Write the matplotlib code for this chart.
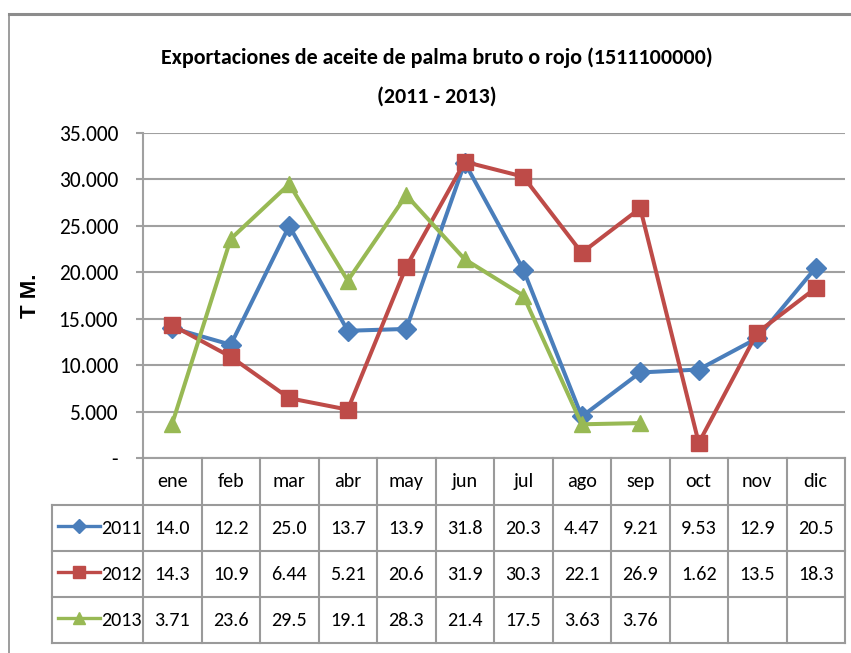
import numpy as np
import matplotlib
matplotlib.use("Agg")
import matplotlib.pyplot as plt
from matplotlib.lines import Line2D
from matplotlib import font_manager as fm

# pick a Calibri-like family if one is installed
have = {f.name for f in fm.fontManager.ttflist}
main_font = 'DejaVu Sans'
for cand in ['Carlito', 'Roboto Condensed', 'Open Sans Condensed', 'Liberation Sans Narrow']:
    if cand in have:
        main_font = cand
        break
plt.rcParams['font.family'] = [main_font, 'DejaVu Sans']

# Data (thousands of TM, as printed in the data table)
months = ['ene', 'feb', 'mar', 'abr', 'may', 'jun', 'jul', 'ago', 'sep', 'oct', 'nov', 'dic']
years = ['2011', '2012', '2013']
v2011 = [14.0, 12.2, 25.0, 13.7, 13.9, 31.8, 20.3, 4.47, 9.21, 9.53, 12.9, 20.5]
v2012 = [14.3, 10.9, 6.44, 5.21, 20.6, 31.9, 30.3, 22.1, 26.9, 1.62, 13.5, 18.3]
v2013 = [3.71, 23.6, 29.5, 19.1, 28.3, 21.4, 17.5, 3.63, 3.76]
yticks = [0, 5000, 10000, 15000, 20000, 25000, 30000, 35000]
ytick_labels = ['-', '5.000', '10.000', '15.000', '20.000', '25.000', '30.000', '35.000']

series = [v2011, v2012, v2013]
colors = ['#4A7EBB', '#BE4B48', '#98B954']
markers = ['D', 's', '^']
msizes = [10, 12, 12]
grid_c = '#A0A0A0'

W, H = 851, 653
fig = plt.figure(figsize=(W / 100, H / 100), dpi=100)

# outer chart frame
fig.add_artist(Line2D([9 / W, 1], [1 - 14 / H, 1 - 14 / H], color='#8C8C8C', lw=2.2))
fig.add_artist(Line2D([9 / W, 9 / W], [0, 1 - 14 / H], color='#8C8C8C', lw=1.2))

left, right = 143 / W, 845 / W
top, bot = 1 - 133 / H, 1 - 458 / H
ax = fig.add_axes([left, bot, right - left, top - bot])

x = np.arange(len(months))
for vals, c, m, ms in zip(series, colors, markers, msizes):
    ax.plot(x[:len(vals)], np.array(vals) * 1000, color=c, lw=2.9, marker=m,
            markersize=ms, markeredgecolor=c, zorder=3)

ax.set_xlim(-0.5, len(months) - 0.5)
ax.set_ylim(0, 35000)
ax.set_yticks(yticks)
ax.set_yticklabels(ytick_labels, fontsize=15.5)
ax.set_xticks([])
ax.yaxis.grid(True, color=grid_c, lw=1.5)
ax.set_axisbelow(True)
for s in ['top', 'right']:
    ax.spines[s].set_visible(False)
ax.spines['left'].set_color(grid_c)
ax.spines['bottom'].set_color(grid_c)
ax.spines['left'].set_linewidth(1.5)
ax.spines['bottom'].set_linewidth(1.5)
ax.tick_params(axis='y', length=5, color=grid_c, width=1.5, pad=13)
fig.text(30 / W, 1 - 296 / H, 'T M.', rotation=90, ha='center', va='center',
         fontsize=16, fontweight='bold', family='Liberation Sans')

fig.text(437 / W, 1 - 58 / H,
         'Exportaciones de aceite de palma bruto o rojo (1511100000)',
         ha='center', va='center', fontsize=15.8, fontweight='bold')
fig.text(437 / W, 1 - 97 / H, '(2011 - 2013)',
         ha='center', va='center', fontsize=15.8, fontweight='bold')

# data table below the plot
tb_top, tb_bot = 458, 643
tax = fig.add_axes([left, 1 - tb_bot / H, right - left, (tb_bot - tb_top) / H])
tax.set_xlim(-0.5, len(months) - 0.5)
row_h = [47, 46, 46, 46]
ys = [tb_bot - tb_top]
for h in row_h:
    ys.append(ys[-1] - h)
tax.set_ylim(0, tb_bot - tb_top)
tax.axis('off')
leg_x = -0.5 - (143 - 52) / 58.5
lc = '#9A9A9A'
for yy in ys[1:]:
    tax.plot([leg_x, len(months) - 0.5], [yy, yy], color=lc, lw=1.5, clip_on=False)
for k in range(len(months) + 1):
    tax.plot([k - 0.5, k - 0.5], [ys[0], 0], color=lc, lw=1.5, clip_on=False)
tax.plot([leg_x, leg_x], [ys[1], 0], color=lc, lw=1.5, clip_on=False)

for k, mth in enumerate(months):
    tax.text(k, (ys[0] + ys[1]) / 2, mth, ha='center', va='center', fontsize=14.5)
for r, (vals, yr, c, m, ms) in enumerate(zip(series, years, colors, markers, msizes)):
    yc = (ys[r + 1] + ys[r + 2]) / 2
    for k, v in enumerate(vals):
        tax.text(k, yc, '{:#.3g}'.format(v), ha='center', va='center', fontsize=14.5)
    kx0 = leg_x + 0.1
    kx1 = leg_x + 0.82
    tax.plot([kx0, kx1], [yc + 2, yc + 2], color=c, lw=2.4, clip_on=False)
    tax.plot([(kx0 + kx1) / 2], [yc + 2], color=c, marker=m, markersize=ms - 3,
             markeredgecolor=c, clip_on=False)
    tax.text(-0.52, yc, yr, ha='right', va='center', fontsize=14.5)

fig.savefig('out.png', dpi=100)
